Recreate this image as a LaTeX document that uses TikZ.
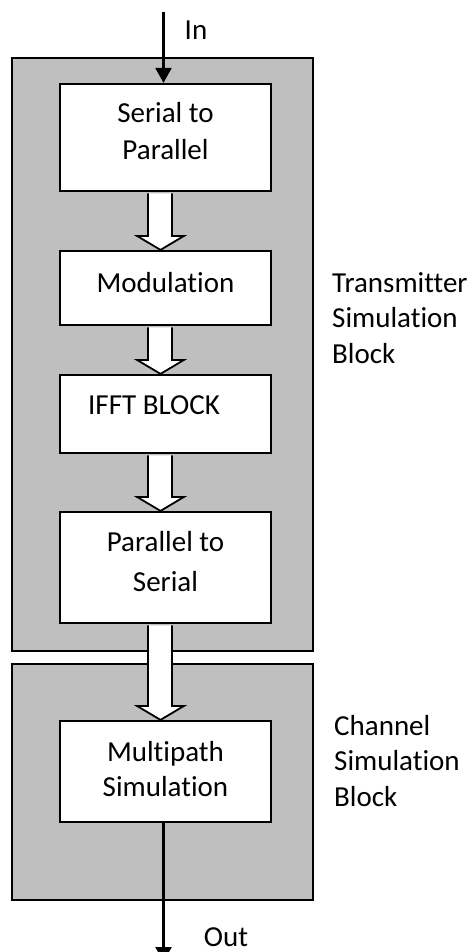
\documentclass[tikz,border=0pt]{standalone}
\usepackage{fontspec}
\setmainfont[Ligatures=NoCommon]{Carlito}
\usetikzlibrary{arrows.meta,calc}
\definecolor{panelgrey}{RGB}{191,191,191}
\tikzset{
  panel/.style={draw=black, line width=2pt, fill=panelgrey},
  stagebox/.style={draw=black, line width=2.2pt, fill=white, minimum width=211pt, inner sep=0pt},
  txt/.style={font=\fontsize{29}{37}\selectfont, align=center, inner sep=0pt},
  sidetxt/.style={font=\fontsize{29}{35.5}\selectfont, align=left, anchor=west, inner sep=0pt},
  flow/.style={line width=2.2pt, -{Triangle[width=16pt,length=15pt]}},
  barrow/.style={draw=black, fill=white, line width=1.8pt, line join=miter}
}
\newcommand\blockarr[2]{%
  \filldraw[barrow] ($(#1.south)+(-17.5,1.2)$) -- ($(#2.north)+(-17.5,-14)$)
    -- ($(#2.north)+(-28.5,-14)$) -- ($(#2.north)+(-5,0)$)
    -- ($(#2.north)+(18.5,-14)$) -- ($(#2.north)+(6.5,-14)$)
    -- ($(#1.south)+(6.5,1.2)$);}
\begin{document}
\begin{tikzpicture}[x=1pt,y=-1pt]
\useasboundingbox (0,0) rectangle (476,952);
\clip (0,0) rectangle (476,952);
% panels
\draw[panel] (12,58) rectangle (313,651);
\draw[panel] (12,664) rectangle (313,900);
% stage boxes
\node[stagebox, minimum height=107pt] (b1) at (165.5,137.5) {};
\node[stagebox, minimum height=74pt] (b2) at (165.5,288) {};
\node[stagebox, minimum height=78pt] (b3) at (165.5,414) {};
\node[stagebox, minimum height=111pt] (b4) at (165.5,567.5) {};
\node[stagebox, minimum height=101pt] (b5) at (165.5,771.5) {};
% texts
\node[txt] (t1) at (165.5,131) {Serial to\\Parallel};
\node[txt] (t2) at (165.5,283) {Modulation};
\node[txt] (t3) at (154,405) {IFFT BLOCK};
\node[txt, font=\fontsize{29}{40}\selectfont] (t4) at (165.5,562) {Parallel to\\Serial};
\node[txt, font=\fontsize{29}{35}\selectfont] (t5) at (165.5,769.5) {Multipath\\Simulation};
% block arrows
\blockarr{b1}{b2}
\blockarr{b2}{b3}
\blockarr{b3}{b4}
\blockarr{b4}{b5}
% in/out arrows
\coordinate (inpt) at (163.5,12);
\coordinate (outpt) at (163.5,962);
\draw[flow] (inpt) -- (inpt |- b1.north);
\draw[flow] (outpt |- b5.south) -- (outpt);
\node[txt] (inlbl) at (196,30) {In};
\node[txt] (outlbl) at (226,937) {Out};
% side labels
\node[sidetxt] (tx) at (332,318) {Transmitter\\Simulation\\Block};
\node[sidetxt] (ch) at (334,761) {Channel\\Simulation\\Block};
\end{tikzpicture}
\end{document}
